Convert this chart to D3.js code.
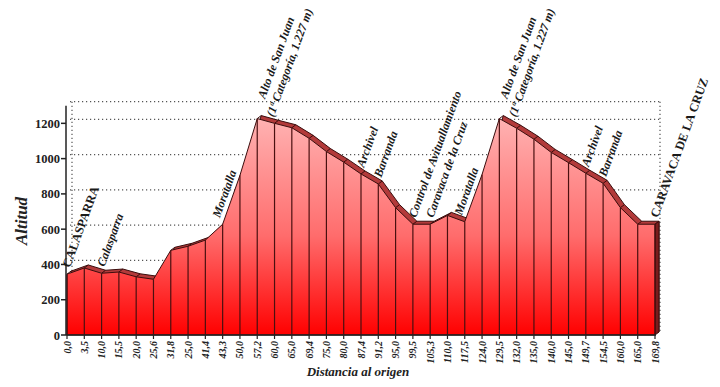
<!DOCTYPE html>
<html>
<head>
<meta charset="utf-8">
<script src="https://cdn.jsdelivr.net/npm/d3@7"></script>
<style>
body { margin: 0; background: #fff; }
text { font-family: "Liberation Serif", "Times New Roman", serif; }
</style>
</head>
<body>
<div id="chart"></div>
<script>
// svg size
var width = 720, height = 387;

// data
var distances = ["0,0", "3,5", "10,0", "15,5", "20,0", "25,6", "31,8", "25,0", "41,4", "43,3",
                 "50,0", "57,2", "60,0", "65,0", "69,4", "75,0", "80,0", "87,4", "91,2", "95,0",
                 "99,5", "105,3", "110,0", "117,5", "124,0", "129,5", "132,0", "135,0", "140,0", "145,0",
                 "149,7", "154,5", "160,0", "165,0", "169,8"];
var altitudes = [345, 380, 350, 357, 330, 316, 480, 503, 538, 628,
                 905, 1227, 1200, 1175, 1115, 1040, 980, 913, 856, 722,
                 628, 628, 678, 642, 910, 1227, 1172, 1110, 1035, 977,
                 917, 860, 722, 628, 628];
var yTicks = [0, 200, 400, 600, 800, 1000, 1200];
var gridValues = [400, 600, 800, 1000, 1200];

// place labels: index of the distance, text lines
var places = [
    {i: 0, lines: ["CALASPARRA"], caps: true},
    {i: 2, lines: ["Calasparra"]},
    {i: 9, lines: ["Moratalla"], dx: -6},
    {i: 11, lines: ["Alto de San Juan", "(1ª Categoría, 1.227 m)"]},
    {i: 17, lines: ["Archivel"]},
    {i: 18, lines: ["Barranda"]},
    {i: 20, lines: ["Control de Avituallamiento"]},
    {i: 21, lines: ["Caravaca de la Cruz"]},
    {i: 23, lines: ["Moratalla"], dx: -6},
    {i: 25, lines: ["Alto de San Juan", "(1ª Categoría, 1.227 m)"]},
    {i: 30, lines: ["Archivel"]},
    {i: 31, lines: ["Barranda"]},
    {i: 34, lines: ["CARAVACA DE LA CRUZ"], caps: true}
];

var data = distances.map(function(d, i){ return {dist: d, alt: altitudes[i]}; });

// 3d depth of the back wall and of the series
var wallDx = 5, wallDy = -4;
var depthDx = 4, depthDy = -3;

var x = d3.scalePoint()
            .domain(distances)
            .range([67, 655]);

var y = d3.scaleLinear()
            .domain([0, 1300])
            .range([335, 105.7]);

var svg = d3.select("#chart")
            .append("svg")
            .attr("width", width)
            .attr("height", height);

var defs = svg.append("defs");
var grad = defs.append("linearGradient")
                .attr("id", "front")
                .attr("gradientUnits", "userSpaceOnUse")
                .attr("x1", 0).attr("x2", 0)
                .attr("y1", y(1250)).attr("y2", y(0));
grad.append("stop").attr("offset", "0%").attr("stop-color", "#ffb4b4");
grad.append("stop").attr("offset", "55%").attr("stop-color", "#ff6c6c");
grad.append("stop").attr("offset", "100%").attr("stop-color", "#ff0000");

// back wall grid (dotted)
var x0 = x(distances[0]), x1 = x(distances[distances.length - 1]);

svg.append("g")
    .selectAll("line")
    .data(gridValues.concat([1300]))
    .enter()
        .append("line")
        .attr("x1", x0 + wallDx - 2)
        .attr("x2", x1 + wallDx)
        .attr("y1", function(d){ return y(d) + wallDy; })
        .attr("y2", function(d){ return y(d) + wallDy; })
        .style("stroke", "#555")
        .style("stroke-width", 1.2)
        .style("stroke-dasharray", "1.2,2.8");

[x0 + wallDx, x1 + wallDx].forEach(function(xx){
    svg.append("line")
        .attr("x1", xx).attr("x2", xx)
        .attr("y1", y(1300) + wallDy).attr("y2", y(0) + wallDy)
        .style("stroke", "#555")
        .style("stroke-width", 1.2)
        .style("stroke-dasharray", "1.2,2.8");
});

// depth (top face) of the profile
var area = d3.area()
                .x(function(d){ return x(d.dist); })
                .y0(y(0))
                .y1(function(d){ return y(d.alt); });

var backArea = d3.area()
                .x(function(d){ return x(d.dist) + depthDx; })
                .y0(y(0) + depthDy)
                .y1(function(d){ return y(d.alt) + depthDy; });

svg.append("path")
    .datum(data)
    .attr("d", backArea)
    .attr("fill", "#b23a3a")
    .style("stroke", "#3a0d0d")
    .style("stroke-width", 1);

// joints of the top face
svg.append("g")
    .selectAll("line")
    .data(data)
    .enter()
        .append("line")
        .attr("x1", function(d){ return x(d.dist); })
        .attr("y1", function(d){ return y(d.alt); })
        .attr("x2", function(d){ return x(d.dist) + depthDx; })
        .attr("y2", function(d){ return y(d.alt) + depthDy; })
        .style("stroke", "#3a0d0d")
        .style("stroke-width", 1);

// right side face
var last = data[data.length - 1];
svg.append("path")
    .attr("d", "M" + x(last.dist) + "," + y(last.alt) +
               "L" + (x(last.dist) + depthDx) + "," + (y(last.alt) + depthDy) +
               "L" + (x(last.dist) + depthDx) + "," + (y(0) + depthDy) +
               "L" + x(last.dist) + "," + y(0) + "Z")
    .attr("fill", "#7a1c1c")
    .style("stroke", "#3a0d0d")
    .style("stroke-width", 1);

// front face
svg.append("path")
    .datum(data)
    .attr("d", area)
    .attr("fill", "url(#front)")
    .style("stroke", "#3a0d0d")
    .style("stroke-width", 1);

svg.append("g")
    .selectAll("line")
    .data(data)
    .enter()
        .append("line")
        .attr("x1", function(d){ return x(d.dist); })
        .attr("x2", function(d){ return x(d.dist); })
        .attr("y1", function(d){ return y(d.alt); })
        .attr("y2", y(0))
        .style("stroke", "#4a1010")
        .style("stroke-width", 1.2);

// y axis
svg.append("line")
    .attr("x1", x0 - 1).attr("x2", x0 - 1)
    .attr("y1", y(1300)).attr("y2", y(0))
    .style("stroke", "#222")
    .style("stroke-width", 1.5);

var yAxis = svg.append("g");
yAxis.selectAll("line")
    .data(yTicks)
    .enter()
        .append("line")
        .attr("x1", x0 - 6).attr("x2", x0 - 1)
        .attr("y1", function(d){ return y(d); })
        .attr("y2", function(d){ return y(d); })
        .style("stroke", "#222")
        .style("stroke-width", 1.5);
yAxis.selectAll("text")
    .data(yTicks)
    .enter()
        .append("text")
        .attr("x", x0 - 7)
        .attr("y", function(d){ return y(d) + 4.5; })
        .attr("text-anchor", "end")
        .style("font-size", "12.5px")
        .style("font-weight", "bold")
        .style("fill", "#222")
        .text(function(d){ return d; });

// x axis
svg.append("line")
    .attr("x1", x0 - 1).attr("x2", x1 + 1)
    .attr("y1", y(0)).attr("y2", y(0))
    .style("stroke", "#222")
    .style("stroke-width", 1.5);

var xAxis = svg.append("g");
xAxis.selectAll("line")
    .data(distances)
    .enter()
        .append("line")
        .attr("x1", function(d){ return x(d); })
        .attr("x2", function(d){ return x(d); })
        .attr("y1", y(0)).attr("y2", y(0) + 4)
        .style("stroke", "#222")
        .style("stroke-width", 1.2);
xAxis.selectAll("text")
    .data(distances)
    .enter()
        .append("text")
        .attr("transform", function(d){ return "translate(" + (x(d) + 3.5) + "," + (y(0) + 6) + ") rotate(-90)"; })
        .attr("text-anchor", "end")
        .style("font-size", "10px")
        .style("font-weight", "bold")
        .style("font-style", "italic")
        .style("fill", "#222")
        .text(function(d){ return d; });

// axis titles
svg.append("text")
    .attr("transform", "translate(27,221) rotate(-90)")
    .attr("text-anchor", "middle")
    .style("font-size", "17px")
    .style("font-weight", "bold")
    .style("font-style", "italic")
    .style("fill", "#222")
    .text("Altitud");

svg.append("text")
    .attr("x", 358)
    .attr("y", 376)
    .attr("text-anchor", "middle")
    .style("font-size", "13px")
    .style("font-weight", "bold")
    .style("font-style", "italic")
    .style("fill", "#222")
    .text("Distancia al origen");

// place labels
var labels = svg.append("g")
                .selectAll("text")
                .data(places)
                .enter()
                    .append("text")
                    .attr("transform", function(d){
                        var p = data[d.i];
                        return "translate(" + (x(p.dist) + 3 + (d.dx || 0)) + "," + (y(p.alt) - 6) + ") rotate(-70)";
                    })
                    .style("font-size", function(d){ return d.caps ? "12.5px" : "12px"; })
                    .style("font-weight", "bold")
                    .style("font-style", function(d){ return d.caps ? "normal" : "italic"; })
                    .style("fill", "#1a1a1a");

labels.selectAll("tspan")
    .data(function(d){ return d.lines; })
    .enter()
        .append("tspan")
        .attr("x", 0)
        .attr("dy", function(d, i){ return i == 0 ? 0 : "1.2em"; })
        .text(function(d){ return d; });

// center the lines of multi-line labels on each other
labels.each(function(){
    var spans = d3.select(this).selectAll("tspan");
    var lens = spans.nodes().map(function(n){ return n.getComputedTextLength(); });
    var maxLen = d3.max(lens);
    spans.attr("x", function(d, i){ return (maxLen - lens[i]) / 2; });
});
</script>
</body>
</html>
